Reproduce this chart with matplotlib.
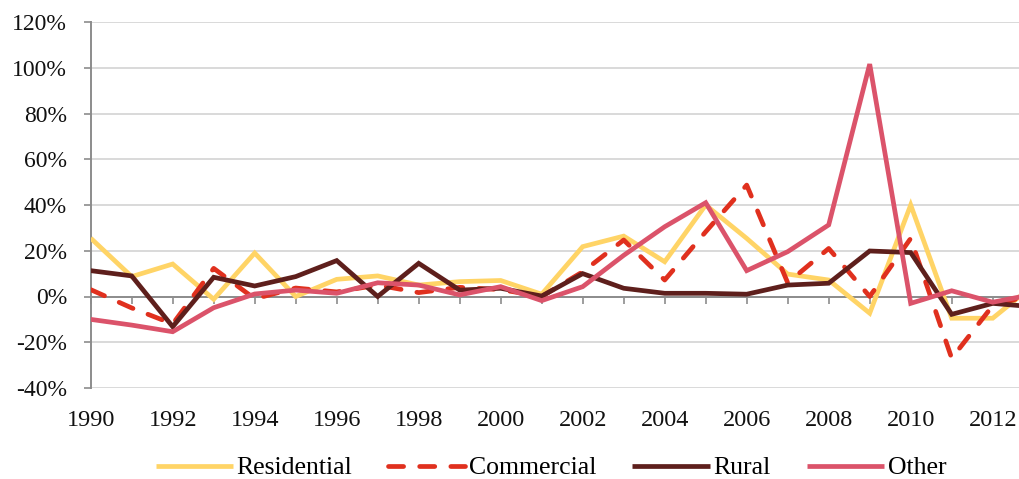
import matplotlib
matplotlib.use("Agg")
import matplotlib.pyplot as plt
from matplotlib.ticker import FuncFormatter

# Annual growth rates (%) by customer class
years = list(range(1990, 2014))
residential = [25.5, 8.7, 14.2, -1.2, 19.0, 0.0, 7.5, 9.0, 5.0, 6.5, 7.0, 1.0,
               21.8, 26.4, 15.2, 40.0, 25.4, 9.8, 7.2, -7.3, 40.0, -9.5, -9.5, 5.0]
commercial = [3.0, -5.0, -12.0, 12.3, -1.0, 3.7, 2.0, 5.0, 1.7, 4.0, 3.0, 0.0,
              10.8, 24.7, 7.2, 28.3, 48.7, 6.0, 21.0, 0.0, 25.4, -27.0, -4.0, 1.0]
rural = [11.3, 9.0, -13.2, 8.4, 4.6, 8.7, 15.7, 0.0, 14.5, 2.8, 3.6, 0.2,
         10.0, 3.6, 1.4, 1.4, 1.0, 5.0, 5.8, 19.9, 19.2, -7.8, -3.0, -4.5]
other = [-10.0, -12.5, -15.4, -4.9, 1.1, 2.8, 1.4, 6.0, 5.0, 0.7, 4.3, -1.8,
         4.3, 18.0, 30.5, 41.0, 11.3, 19.6, 31.3, 101.6, -3.0, 2.5, -2.5, 1.0]

series_names = ["Residential", "Commercial", "Rural", "Other"]
series_colors = ["#FFD466", "#E0301E", "#5E1F1C", "#DB536A"]
y_ticks = [-40, -20, 0, 20, 40, 60, 80, 100, 120]
x_label_years = years[:-1:2]

plt.rcParams["font.family"] = ["Liberation Serif", "DejaVu Serif"]

fig = plt.figure(figsize=(10.2, 4.79), dpi=100)
W, H = 1020, 479
left_px, right_px, top_px, bottom_px = 90.7, 90.7 + 23 * 41.0, 22, 388
ax = fig.add_axes([left_px / W, 1 - bottom_px / H,
                   (right_px - left_px) / W, (bottom_px - top_px) / H])

lw = 3.4
data = [residential, commercial, rural, other]
for vals, name, col in zip(data, series_names, series_colors):
    if name == "Commercial":
        ax.plot(years, vals, color=col, lw=lw, label=name,
                dashes=(3.2, 3.4), dash_capstyle="round",
                solid_joinstyle="round", zorder=3)
    else:
        ax.plot(years, vals, color=col, lw=lw, label=name,
                solid_joinstyle="miter", solid_capstyle="butt", zorder=3)

ax.set_xlim(1990, 2013)
ax.set_ylim(-40, 120)
ax.set_yticks(y_ticks)
ax.yaxis.set_major_formatter(FuncFormatter(lambda v, p: f"{v:.0f}%"))
ax.grid(axis="y", color="#D9D9D9", lw=1.4, zorder=0)
ax.set_axisbelow(True)

axis_gray = "#8C8C8C"
for s in ["top", "right"]:
    ax.spines[s].set_visible(False)
ax.spines["left"].set_color(axis_gray)
ax.spines["left"].set_linewidth(1.4)
ax.spines["bottom"].set_position(("data", 0))
ax.spines["bottom"].set_color(axis_gray)
ax.spines["bottom"].set_linewidth(1.4)
ax.spines["bottom"].set_zorder(2)

ax.tick_params(axis="y", length=5, width=1.2, color=axis_gray, pad=12,
               labelsize=17, labelcolor="#111111")
ax.set_xticks(years)
ax.set_xticklabels([])
ax.tick_params(axis="x", length=5, width=1.2, color=axis_gray)

sec = ax.secondary_xaxis("bottom")
sec.set_xticks(x_label_years)
sec.set_xticklabels([str(y) for y in x_label_years])
sec.spines["bottom"].set_visible(False)
sec.tick_params(axis="x", length=0, pad=16, labelsize=17.5, labelcolor="#111111")

ax.legend(loc="center", bbox_to_anchor=(0.488, (bottom_px - 468) / (bottom_px - top_px)),
          ncol=4, frameon=False, fontsize=18.5, handlelength=3.0,
          handletextpad=0.15, columnspacing=1.4)

fig.savefig("out.png", dpi=100)
